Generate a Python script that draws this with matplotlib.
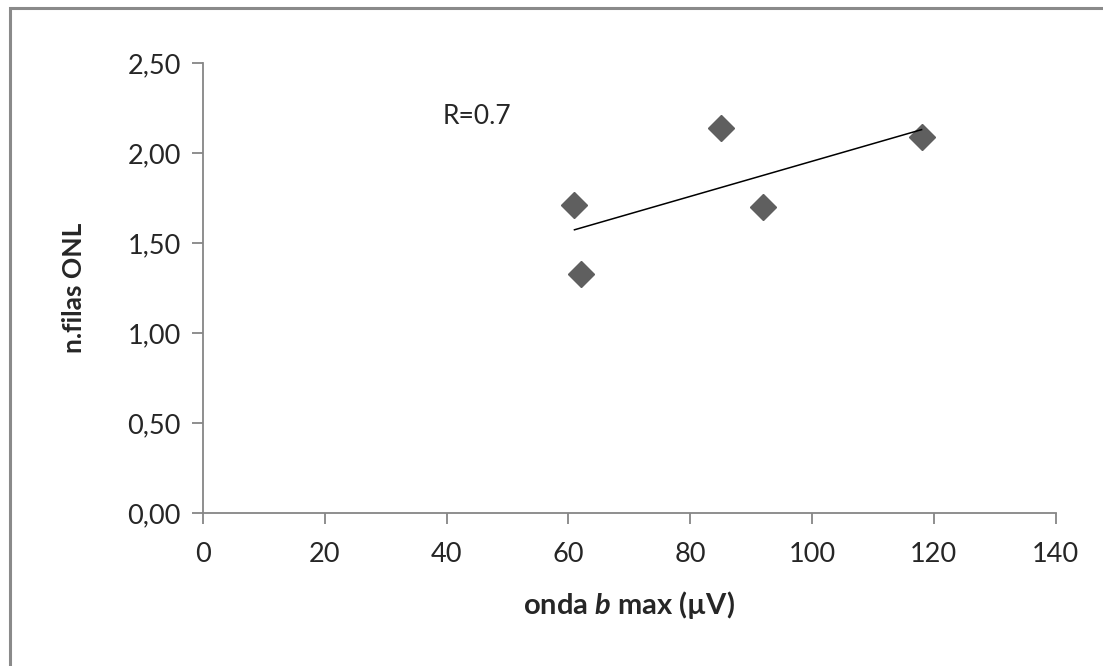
import numpy as np
import matplotlib
matplotlib.use('Agg')
import matplotlib.pyplot as plt
from matplotlib.patches import Rectangle
from matplotlib.ticker import FuncFormatter

# onda b max (uV) vs n.filas ONL
onda_b = [61, 62, 85, 92, 118]
filas_onl = [1.71, 1.33, 2.14, 1.70, 2.09]
x_ticks = [0, 20, 40, 60, 80, 100, 120, 140]
y_ticks = [0.0, 0.5, 1.0, 1.5, 2.0, 2.5]

plt.rcParams['font.family'] = ['Lato', 'DejaVu Sans']
plt.rcParams['mathtext.fontset'] = 'custom'
plt.rcParams['mathtext.rm'] = 'Lato'
plt.rcParams['mathtext.bf'] = 'Lato:bold'
plt.rcParams['mathtext.bfit'] = 'Lato:bold:italic'
GREY = '#868686'
TXT = '#262626'

fig = plt.figure(figsize=(11.03, 6.66), dpi=100, facecolor='white')
ax = fig.add_axes([0.184, 0.2297, 0.957 - 0.184, 0.9054 - 0.2297])

ax.plot(onda_b, filas_onl, linestyle='none', marker='D', ms=13.5,
        color='#5f5f5f', zorder=3)

# linear trend line over the data range
k, b = np.polyfit(onda_b, filas_onl, 1)
xs = np.array([min(onda_b), max(onda_b)])
ax.plot(xs, k * xs + b, color='black', lw=1.1, zorder=4)

ax.set_xlim(0, 140)
ax.set_ylim(0, 2.5)
ax.set_xticks(x_ticks)
ax.set_yticks(y_ticks)
ax.yaxis.set_major_formatter(FuncFormatter(lambda v, p: f"{v:.2f}".replace('.', ',')))

for s in ('top', 'right'):
    ax.spines[s].set_visible(False)
for s in ('left', 'bottom'):
    ax.spines[s].set_color(GREY)
    ax.spines[s].set_linewidth(1.3)
ax.tick_params(axis='both', direction='out', length=8, width=1.3, color=GREY,
               labelsize=19.5, labelcolor=TXT)
ax.tick_params(axis='x', pad=13)
ax.tick_params(axis='y', pad=8)

ax.set_xlabel(r'onda $\mathbfit{b}$ max (µV)', fontsize=21, fontweight='bold',
              color=TXT, labelpad=16)
ax.set_ylabel('n.filas ONL', fontsize=19, fontweight='bold', color=TXT,
              labelpad=30)
ax.text(39.3, 2.205, 'R=0.7', fontsize=19, color=TXT, va='center')

fig.patches.append(Rectangle((10 / 1103, -0.02), 1.05, 1 - 8 / 666 + 0.02,
                             transform=fig.transFigure, fill=False,
                             edgecolor='#8a8a8a', lw=2.2))

fig.savefig('out.png', dpi=100, facecolor='white')
